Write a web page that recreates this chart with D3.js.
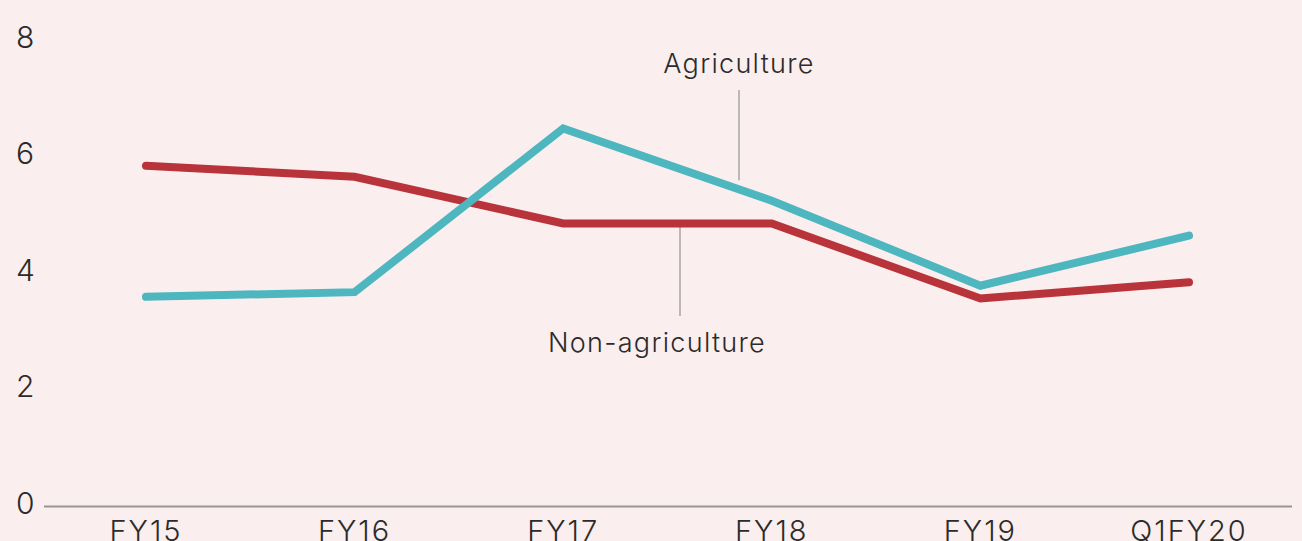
<!DOCTYPE html>
<html>
<head>
<meta charset="utf-8">
<script src="https://cdn.jsdelivr.net/npm/d3@7"></script>
<style>
  html, body { margin: 0; padding: 0; background: #fbeeef; }
  svg { display: block; }
  text { font-family: Inter, "Open Sans", sans-serif; fill: #2b2b2b; font-weight: 300; }
</style>
</head>
<body>
<svg id="chart" width="1302" height="541"></svg>
<script>
// Growth by sector, per cent
const periods = ["FY15", "FY16", "FY17", "FY18", "FY19", "Q1FY20"];
const agriculture = [3.6, 3.68, 6.49, 5.25, 3.79, 4.65];
const nonAgriculture = [5.85, 5.66, 4.86, 4.86, 3.57, 3.85];
const yTicks = [0, 2, 4, 6, 8];

const svg = d3.select("#chart");

const x = d3.scalePoint().domain(periods).range([146, 1189]);
const y = d3.scaleLinear().domain([0, 8]).range([506.5, 40.5]);

// baseline
svg.append("line")
  .attr("x1", 44).attr("x2", 1292)
  .attr("y1", y(0)).attr("y2", y(0))
  .attr("stroke", "#9a9595").attr("stroke-width", 2);

// y tick labels
svg.append("g").selectAll("text").data(yTicks).join("text")
  .attr("x", 16).attr("y", d => y(d) + 7)
  .attr("font-size", 30)
  .text(d => d);

// x tick labels
svg.append("g").selectAll("text").data(periods).join("text")
  .attr("x", d => x(d)).attr("y", 541)
  .attr("text-anchor", "middle")
  .attr("font-size", 29)
  .attr("letter-spacing", 2)
  .text(d => d);

const line = d3.line()
  .x((d, i) => x(periods[i]))
  .y(d => y(d));

// leader lines
svg.append("line")
  .attr("x1", 739).attr("x2", 739).attr("y1", 90).attr("y2", y(5.6))
  .attr("stroke", "#a9a4a4").attr("stroke-width", 1.5);
svg.append("line")
  .attr("x1", 680).attr("x2", 680).attr("y1", y(4.86)).attr("y2", 316)
  .attr("stroke", "#a9a4a4").attr("stroke-width", 1.5);

// series
[[nonAgriculture, "#b8333a"], [agriculture, "#4db6bf"]].forEach(([vals, color]) => {
  svg.append("path")
    .datum(vals)
    .attr("d", line)
    .attr("fill", "none")
    .attr("stroke", color)
    .attr("stroke-width", 8)
    .attr("stroke-linecap", "round")
    .attr("stroke-linejoin", "miter");
});

// series labels
svg.append("text")
  .attr("x", 739).attr("y", 73)
  .attr("text-anchor", "middle")
  .attr("font-size", 27)
  .attr("letter-spacing", 1.3)
  .text("Agriculture");
svg.append("text")
  .attr("x", 657).attr("y", 352)
  .attr("text-anchor", "middle")
  .attr("font-size", 27)
  .attr("letter-spacing", 1.3)
  .text("Non-agriculture");
</script>
</body>
</html>
